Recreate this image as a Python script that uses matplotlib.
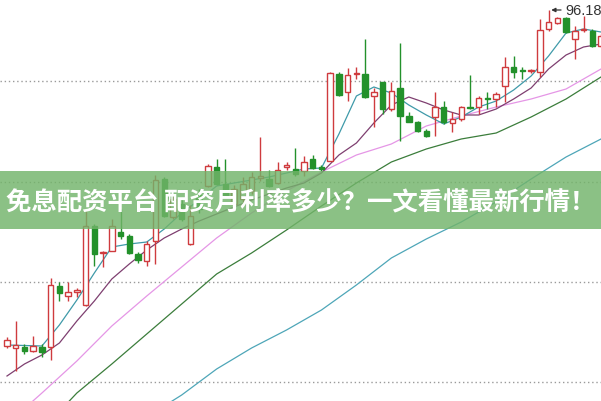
import matplotlib
matplotlib.use("Agg")
import matplotlib.pyplot as plt

# daily candles (price units)
opens = [62.61, 62.38, 62.48, 62.08, 62.48, 62.45, 68.61, 67.61, 68.03, 66.68,
         74.55, 71.88, 72.11, 74.01, 73.61, 71.78, 71.11, 73.11, 79.28, 75.48,
         76.78, 72.78, 77.68, 78.61, 80.51, 78.78, 76.78, 77.28, 78.11, 79.38,
         79.28, 78.88, 80.53, 80.28, 80.11, 81.28, 80.43, 81.11, 89.78, 87.95,
         89.78, 89.78, 87.55, 88.95, 86.28, 88.35, 85.61, 85.01, 84.11, 85.45,
         86.45, 84.88, 85.28, 86.50, 86.45, 87.38, 87.28, 88.55, 90.45, 90.16,
         90.06, 90.01, 94.28, 94.88, 95.38, 93.28, 94.15, 94.11, 92.61]
closes = [63.21, 62.68, 62.08, 62.58, 61.98, 68.71, 67.88, 68.01, 68.23, 74.55,
          71.78, 72.01, 74.61, 73.61, 71.88, 71.21, 72.78, 79.21, 75.61, 77.28,
          75.28, 75.61, 76.28, 80.61, 78.78, 77.61, 78.28, 78.78, 79.48, 79.53,
          78.61, 80.21, 80.68, 79.78, 81.01, 80.35, 80.33, 89.85, 87.68, 89.68,
          89.88, 87.45, 87.95, 86.28, 88.11, 85.61, 85.01, 84.11, 83.55, 86.45,
          84.95, 85.28, 86.45, 86.40, 87.35, 87.28, 87.78, 90.45, 90.01, 90.06,
          90.16, 94.21, 95.01, 95.35, 93.95, 94.05, 94.28, 92.61, 93.61]
highs = [63.48, 65.11, 62.78, 63.61, 62.78, 69.38, 68.98, 68.98, 68.38, 76.11,
         74.78, 72.11, 75.28, 76.28, 73.78, 71.98, 73.11, 79.68, 79.48, 77.78,
         77.28, 76.68, 78.28, 80.78, 81.28, 81.28, 78.68, 79.48, 80.01, 83.45,
         80.18, 81.01, 81.01, 82.35, 81.58, 81.68, 80.68, 90.01, 89.98, 90.35,
         90.45, 93.28, 88.38, 88.98, 88.98, 92.88, 85.98, 85.11, 84.28, 87.95,
         87.11, 85.98, 86.61, 89.68, 87.61, 87.95, 87.98, 91.45, 91.61, 90.45,
         90.28, 95.28, 96.18, 95.45, 95.45, 94.61, 95.61, 94.28, 93.78]
lows = [62.38, 60.08, 61.78, 61.98, 61.48, 61.21, 67.08, 67.08, 67.48, 66.60,
        70.61, 70.45, 72.08, 73.28, 71.78, 70.88, 70.61, 70.78, 75.48, 75.28,
        75.08, 72.68, 75.88, 78.48, 78.68, 77.58, 76.48, 76.98, 77.78, 79.08,
        78.45, 78.78, 80.21, 79.61, 79.61, 80.28, 80.08, 81.08, 87.58, 87.11,
        89.28, 87.38, 84.43, 85.78, 86.11, 83.08, 84.98, 84.01, 83.45, 83.61,
        84.78, 84.01, 85.11, 86.28, 85.78, 86.28, 86.45, 86.95, 89.35, 89.28,
        89.88, 89.45, 94.11, 94.78, 93.90, 91.28, 93.95, 92.45, 92.48]

# moving averages, sampled every 2 (short) / every 4 (long) sessions
idx2 = list(range(0, 69, 2))
ma5 = [62.68, 62.63, 62.58, 64.68, 67.18, 69.88, 72.48, 72.78, 72.98, 74.28,
       75.88, 77.18, 78.58, 78.88, 79.18, 79.48, 79.88, 80.28, 80.38, 83.78,
       87.58, 88.48, 87.88, 86.68, 85.68, 84.78, 85.48, 86.48, 87.08, 88.18,
       89.58, 91.58, 93.88, 94.28, 93.98]
ma10 = [59.58, 60.78, 61.68, 62.88, 65.08, 67.08, 69.28, 70.78, 72.18, 73.38,
        74.28, 75.08, 75.78, 76.48, 77.18, 77.78, 78.38, 78.88, 79.88, 81.68,
        82.88, 84.88, 86.68, 87.48, 86.88, 86.18, 85.68, 85.68, 86.28, 87.28,
        88.38, 90.28, 91.68, 92.48, 92.78]
idx4 = list(range(0, 69, 4))
ma20 = [54.78, 57.88, 61.08, 64.58, 67.58, 70.48, 73.38, 75.88, 78.08,
        79.98, 81.68, 82.78, 84.58, 85.58, 86.48, 87.28, 88.28, 90.28]
ma60 = [52.08, 54.18, 57.88, 60.78, 63.78, 66.78, 69.78, 71.88, 74.18,
        76.58, 78.88, 80.98, 82.28, 83.28, 83.88, 85.48, 87.28, 89.48]
idx120 = list(range(12, 69, 4))
ma120 = [52.78, 55.48, 57.68, 60.28, 62.38, 64.18, 66.18, 68.68, 71.38,
         73.28, 74.98, 76.98, 79.28, 81.48, 83.28]

grid_levels = [58.98, 68.98, 78.98, 89.08]
peak_label = "96.18"
title = "免息配资平台 配资月利率多少？一文看懂最新行情！"

red = "#cf3b3e"
green = "#23912b"

fig = plt.figure(figsize=(6.01, 4.02), dpi=100)
ax = fig.add_axes([0, 0, 1, 1])
ax.set_xlim(-0.8, 68.0)
ax.set_ylim(57.08, 97.28)
ax.axis("off")

for g in grid_levels:
    ax.axhline(g, color="#9a9a9a", lw=1.0, linestyle=(0, (1, 2)), zorder=1)

# moving averages
ax.plot(idx120, ma120, color="#4ea6b8", lw=0.9, zorder=2)
ax.plot(idx4, ma60, color="#3b7d3b", lw=0.9, zorder=2)
ax.plot(idx4, ma20, color="#e596e6", lw=0.9, zorder=2)
ax.plot(idx2, ma10, color="#7e3f70", lw=0.9, zorder=2)
ax.plot(idx2, ma5, color="#3f9aa9", lw=0.9, zorder=2)

# candles
for i in range(len(opens)):
    o, c, h, l = opens[i], closes[i], highs[i], lows[i]
    up = c >= o
    col = red if up else green
    ax.vlines(i, l, h, color=col, lw=1.0, zorder=3)
    body = max(abs(c - o), 0.12)
    ax.bar(i, body, bottom=min(o, c), width=0.62,
           facecolor="white" if up else green, edgecolor=col, lw=1.0, zorder=4)

ax.annotate(peak_label, xy=(62.3, 96.18), xytext=(63.9, 96.18),
            ha="left", va="center", fontsize=10.5, color="#333333",
            family="Liberation Sans",
            arrowprops=dict(arrowstyle="-|>", color="#333333", lw=0.9,
                            mutation_scale=6, shrinkA=1, shrinkB=0))

# title banner across the chart
fig.patches.append(plt.Rectangle((0, 1 - 230 / 402), 1, 58 / 402,
                                 transform=fig.transFigure,
                                 facecolor="#72b46a", alpha=0.82, zorder=5))
fig.text(0.5, 1 - 202 / 402, title, ha="center", va="center",
         fontsize=18.3, fontweight="bold", color="white",
         family=["Noto Sans CJK SC", "DejaVu Sans"], zorder=6)

fig.savefig("out.png", dpi=100)
